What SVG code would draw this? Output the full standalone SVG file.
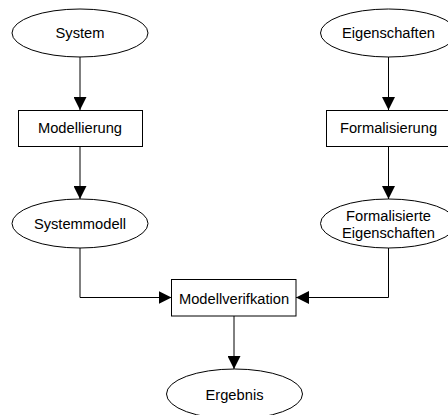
<svg xmlns="http://www.w3.org/2000/svg" width="448" height="415" viewBox="0 0 448 415">
<style>
.n{fill:#fff;stroke:#000;stroke-width:1}
.t{font-family:"Liberation Sans",Arial,sans-serif;font-size:14.7px;fill:#000;text-anchor:middle}
.c{fill:none;stroke:#000;stroke-width:1}
</style>
<defs>
<marker id="a" markerWidth="13" markerHeight="13" refX="13" refY="6.5" orient="auto" markerUnits="userSpaceOnUse">
<path d="M0,0 L13,6.5 L0,13 Z" fill="#000"/>
</marker>
</defs>
<rect width="448" height="415" fill="#fff"/>
<g id="connectors">
<path class="c" d="M80,57 V110" marker-end="url(#a)"/>
<path class="c" d="M80,147 V199" marker-end="url(#a)"/>
<path class="c" d="M388.5,57 V110" marker-end="url(#a)"/>
<path class="c" d="M388.5,147 V199" marker-end="url(#a)"/>
<path class="c" d="M80,248 V297.5 H171.5" marker-end="url(#a)"/>
<path class="c" d="M388.5,248 V297.5 H296" marker-end="url(#a)"/>
<path class="c" d="M234,316 V369" marker-end="url(#a)"/>
</g>
<g id="system">
<ellipse class="n" cx="80" cy="33" rx="68" ry="24"/>
<text class="t" x="80" y="38.3">System</text>
</g>
<g id="modellierung">
<rect class="n" x="18.5" y="110.5" width="124" height="36"/>
<text class="t" x="80" y="133.3">Modellierung</text>
</g>
<g id="systemmodell">
<ellipse class="n" cx="80" cy="223.5" rx="68" ry="24.5"/>
<text class="t" x="80" y="228.5">Systemmodell</text>
</g>
<g id="eigenschaften">
<ellipse class="n" cx="388.5" cy="33" rx="68" ry="24"/>
<text class="t" x="388.5" y="38.3">Eigenschaften</text>
</g>
<g id="formalisierung">
<rect class="n" x="326.5" y="110.5" width="124" height="36"/>
<text class="t" x="388.5" y="133.3">Formalisierung</text>
</g>
<g id="formalisierte-eigenschaften">
<ellipse class="n" cx="388.5" cy="223.5" rx="68" ry="24.5"/>
<text class="t" x="388.5" y="221">Formalisierte</text>
<text class="t" x="388.5" y="238.3">Eigenschaften</text>
</g>
<g id="modellverifkation">
<rect class="n" x="171.5" y="279.5" width="124.5" height="36.5"/>
<text class="t" x="234" y="304.3">Modellverifkation</text>
</g>
<g id="ergebnis">
<ellipse class="n" cx="234.5" cy="394" rx="68" ry="25"/>
<text class="t" x="234.5" y="400">Ergebnis</text>
</g>
</svg>
